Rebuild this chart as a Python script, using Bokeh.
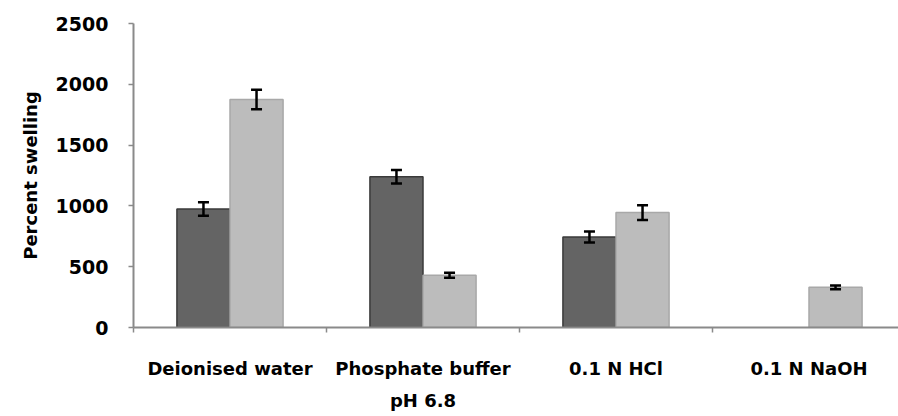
from bokeh.plotting import figure
from bokeh.models import ColumnDataSource, Range1d, FixedTicker, Whisker, TeeHead
from bokeh.embed import file_html
from bokeh.resources import INLINE

categories = ["Deionised water", "Phosphate buffer\npH 6.8", "0.1 N HCl", "0.1 N NaOH"]
series_a = [975, 1240, 745, 0]
series_a_err = [55, 55, 45, 0]
series_b = [1875, 430, 945, 330]
series_b_err = [80, 20, 60, 15]
y_ticks = [0, 500, 1000, 1500, 2000, 2500]

FONT = "DejaVu Sans"
bar_w = 0.275
centers = [i + 0.5 for i in range(len(categories))]

p = figure(frame_width=765, frame_height=304, output_backend="svg",
           toolbar_location=None, min_border_left=133, min_border_top=23,
           min_border_right=0, min_border_bottom=80,
           x_range=Range1d(0, 765 / 193), y_range=Range1d(0, 2500))
p.outline_line_color = None
p.xgrid.visible = False
p.ygrid.visible = False
p.background_fill_color = "white"

xa = [c - bar_w / 2 for c in centers]
xb = [c + bar_w / 2 for c in centers]

def bar_source(xs, vals, errs):
    d = dict(x=[], top=[], lo=[], hi=[])
    for x, v, e in zip(xs, vals, errs):
        if v > 0:
            d["x"].append(x)
            d["top"].append(v)
            d["lo"].append(v - e)
            d["hi"].append(v + e)
    return ColumnDataSource(d)

src_a = bar_source(xa, series_a, series_a_err)
src_b = bar_source(xb, series_b, series_b_err)
p.vbar(x="x", top="top", width=bar_w, source=src_a, fill_color="#646464",
       line_color="#3a3a3a", line_width=1.5)
p.vbar(x="x", top="top", width=bar_w, source=src_b, fill_color="#bcbcbc",
       line_color="#a8a8a8", line_width=1.5)

for s in (src_a, src_b):
    w = Whisker(base="x", lower="lo", upper="hi", source=s, level="overlay",
                line_color="black", line_width=2.5,
                upper_head=TeeHead(size=11, line_color="black", line_width=2.5),
                lower_head=TeeHead(size=11, line_color="black", line_width=2.5))
    p.add_layout(w)

# x axis: labels at category centers, minor ticks at category boundaries
xax = p.xaxis[0]
xax.ticker = FixedTicker(ticks=centers, minor_ticks=[0, 1, 2, 3, 4])
xax.major_label_overrides = {c: lab for c, lab in zip(centers, categories)}
xax.major_tick_line_color = None
xax.major_tick_in = 0
xax.major_tick_out = 5
xax.minor_tick_line_color = "#8a8a8a"
xax.minor_tick_line_width = 1.5
xax.minor_tick_in = 0
xax.minor_tick_out = 5
xax.axis_line_color = "#8a8a8a"
xax.axis_line_width = 2
xax.major_label_text_font = FONT
xax.major_label_text_font_style = "bold"
xax.major_label_text_font_size = "18px"
xax.major_label_text_color = "black"
xax.major_label_text_line_height = 1.55
xax.major_label_standoff = 25

yax = p.yaxis[0]
yax.ticker = FixedTicker(ticks=y_ticks)
yax.minor_tick_line_color = None
yax.major_tick_line_color = "#8a8a8a"
yax.major_tick_line_width = 1.5
yax.major_tick_in = 0
yax.major_tick_out = 5
yax.axis_line_color = "#8a8a8a"
yax.axis_line_width = 2
yax.major_label_text_font = FONT
yax.major_label_text_font_style = "bold"
yax.major_label_text_font_size = "19px"
yax.major_label_text_color = "black"
yax.major_label_standoff = 20
yax.axis_label = "Percent swelling"
yax.axis_label_text_font = FONT
yax.axis_label_text_font_style = "bold"
yax.axis_label_text_font_size = "18px"
yax.axis_label_text_color = "black"
yax.axis_label_standoff = 12

open("out.html", "w").write(file_html(p, INLINE))
